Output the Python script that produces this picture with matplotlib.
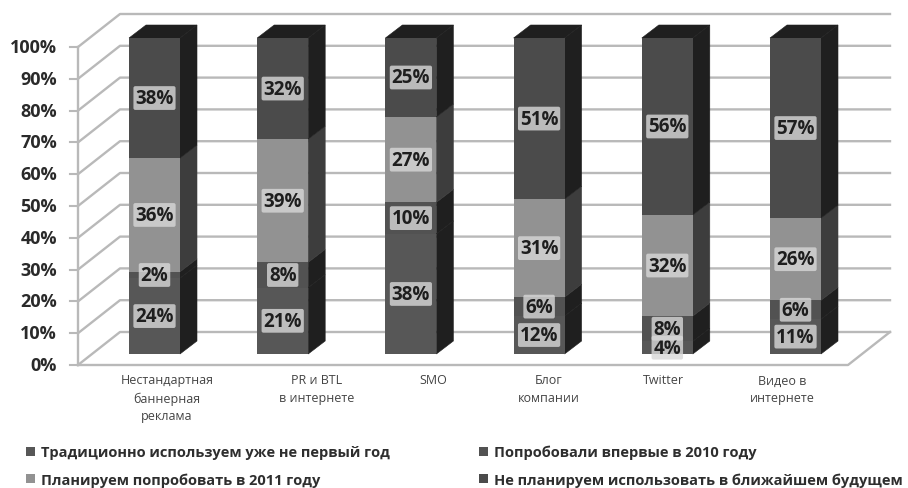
import matplotlib
matplotlib.use('Agg')
import matplotlib.pyplot as plt
from matplotlib.patches import Polygon
import numpy as np

categories = ['Нестандартная\nбаннерная\nреклама', 'PR и BTL\nв интернете', 'SMO',
              'Блог\nкомпании', 'Twitter', 'Видео в\nинтернете']
traditional = [24, 21, 38, 12, 4, 11]
tried_2010 = [2, 8, 10, 6, 8, 6]
plan_2011 = [36, 39, 27, 31, 32, 26]
no_plan = [38, 32, 25, 51, 56, 57]
series_names = ['Традиционно используем уже не первый год', 'Попробовали впервые в 2010 году',
                'Планируем попробовать в 2011 году', 'Не планируем использовать в ближайшем будущем']
yticks = list(range(0, 101, 10))

FONT = 'Open Sans'
plt.rcParams['font.family'] = [FONT, 'DejaVu Sans']
W, H = 908, 489
fig = plt.figure(figsize=(W/100, H/100), dpi=100)
# axes = front plane of the 3D box
ax = fig.add_axes([78/W, 1-366/H, 770/W, 318/H])
step_px = 128.2
x0 = (78-154.5)/step_px
ax.set_xlim(x0, x0+770/step_px)
ax.set_ylim(0, 100)
ax.axis('off')
px, py = 1/step_px, 100/318
GRID = '#b9b9b9'
wall_dx, wall_dy = 42*px, 33*py
xl, xr = ax.get_xlim()
for t in yticks:
    ax.plot([xl, xl+wall_dx, xr+wall_dx], [t, t+wall_dy, t+wall_dy], color=GRID, lw=1.7, clip_on=False, zorder=1)
    ax.plot([xl-8*px, xl], [t, t], color=GRID, lw=1.5, clip_on=False, zorder=1)
ax.plot([xl, xl], [0, 100], color=GRID, lw=1.7, clip_on=False, zorder=1)
ax.plot([xl, xr, xr+wall_dx], [0, 0, wall_dy], color=GRID, lw=1.7, clip_on=False, zorder=1)
for t in yticks:
    ax.text(xl-21*px, t, f'{t}%', ha='right', va='center', fontsize=13, fontweight='bold', color='#2a2a2a', clip_on=False)

xs = np.arange(len(categories))
series = [traditional, tried_2010, plan_2011, no_plan]
front = ['#575757', '#525252', '#929292', '#4b4b4b']
side = ['#1f1f1f', '#1f1f1f', '#3d3d3d', '#1f1f1f']
bw = 51*px
lift = 11*py
scale = 316/318
ddx, ddy = 17*px, 13*py
bottoms = np.zeros(len(xs))
for vals, fc, sc, name in zip(series, front, side, series_names):
    vals = np.array(vals, float)
    ax.bar(xs, vals*scale, bw, bottom=bottoms*scale+lift, color=fc, label=name, zorder=3, clip_on=False)
    for x, v, b in zip(xs, vals, bottoms):
        y0, y1 = b*scale+lift, (b+v)*scale+lift
        r = x+bw/2
        ax.add_patch(Polygon([(r, y0), (r+ddx, y0+ddy), (r+ddx, y1+ddy), (r, y1)], closed=True, fc=sc, ec=sc, lw=0.4, zorder=2.5, clip_on=False))
        ax.text(x, (y0+y1)/2, f'{int(v)}%', ha='center', va='center', fontsize=13.5, fontweight='bold', color='#1e1e1e', zorder=5,
                bbox=dict(boxstyle='round,pad=0.1', fc='#d8d8d8', ec='none', alpha=0.8), clip_on=False)
    bottoms = bottoms+vals
for x in xs:
    l, r = x-bw/2, x+bw/2
    t = 100*scale+lift
    ax.add_patch(Polygon([(l, t), (r, t), (r+ddx, t+ddy), (l+ddx, t+ddy)], closed=True, fc='#1f1f1f', ec='#1f1f1f', lw=0.4, zorder=2.5, clip_on=False))

label_shift = [12.5, 34, 22, 10, -4, -13]
for x, c, s in zip(xs, categories, label_shift):
    ax.text(x+s*px, -8.5*py, c, ha='center', va='top', fontsize=9, color='#444444', linespacing=1.45, clip_on=False)

h, l = ax.get_legend_handles_labels()
order = [0, 2, 1, 3]
leg = fig.legend([h[i] for i in order], [l[i] for i in order], ncol=2, loc='upper left',
                 bbox_to_anchor=(26/W, 1-446/H), frameon=False, handlelength=0.6, handleheight=0.6,
                 handletextpad=0.45, columnspacing=6.1, labelspacing=0.88, borderpad=0, borderaxespad=0,
                 prop=dict(family=FONT, size=10.5, weight='bold'))
for t in leg.get_texts():
    t.set_color('#2e2e2e')
fig.savefig('out.png', dpi=100, facecolor='white')
